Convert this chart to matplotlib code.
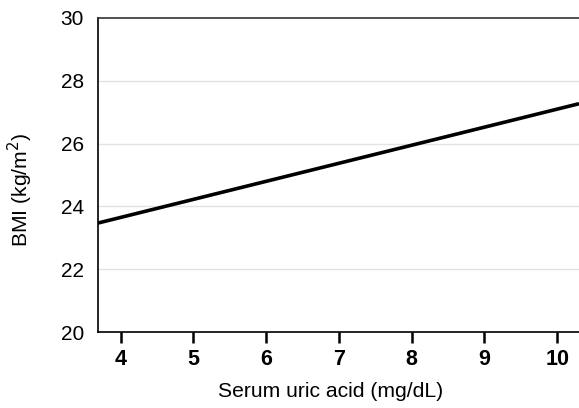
import matplotlib
matplotlib.use("Agg")
import matplotlib.pyplot as plt

uric_acid = [3.69, 10.3]
bmi = [23.47, 27.27]
x_ticks = [4, 5, 6, 7, 8, 9, 10]
y_ticks = [20, 22, 24, 26, 28, 30]

plt.rcParams['font.family'] = ['Liberation Sans', 'DejaVu Sans']

fig = plt.figure(figsize=(5.79, 4.08), dpi=100)
ax = fig.add_axes([98/579, 76/408, 1 - 98/579, 314/408])

for y in y_ticks[1:-1]:
    ax.axhline(y, color='#e3e3e3', lw=1, zorder=0)

ax.plot(uric_acid, bmi, color='black', lw=2.6, solid_capstyle='butt')

ax.set_xlim(3.69, 10.3)
ax.set_ylim(20, 30)
ax.set_xticks(x_ticks)
ax.set_yticks(y_ticks)
ax.set_xticklabels([str(v) for v in x_ticks], fontweight='bold', fontsize=15.5)
ax.set_yticklabels([str(v) for v in y_ticks], fontsize=15)
ax.tick_params(axis='x', length=8, width=1.8, pad=4)
ax.tick_params(axis='y', length=0, pad=10)

ax.spines['right'].set_visible(False)
ax.spines['top'].set_color('#333333')
for s in ['left', 'bottom', 'top']:
    ax.spines[s].set_linewidth(1.2)

ax.set_xlabel('Serum uric acid (mg/dL)', fontsize=15.2)
ax.set_ylabel('BMI (kg/m$^2$)', fontsize=15.2)
ax.xaxis.set_label_coords(0.484, -0.16)
ax.yaxis.set_label_coords(-0.132, 0.452)

fig.savefig('out.png', dpi=100)
